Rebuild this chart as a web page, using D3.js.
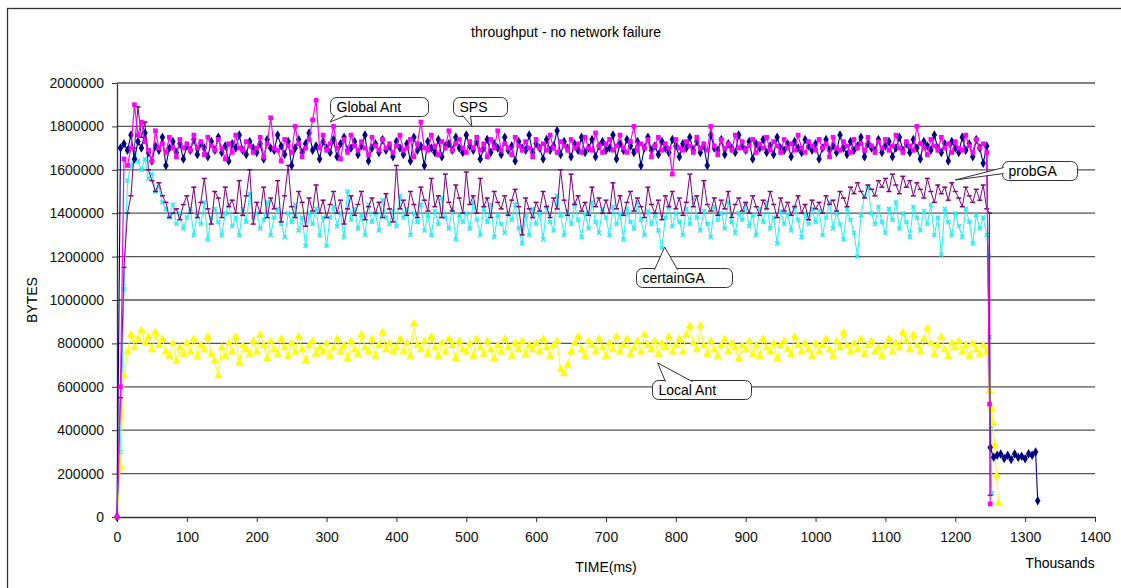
<!DOCTYPE html>
<html>
<head>
<meta charset="utf-8">
<script src="https://cdn.jsdelivr.net/npm/d3@7"></script>
<style>
body { margin: 0; background: #fff; }
svg { display: block; font-family: "Liberation Sans", Arial, sans-serif; }
</style>
</head>
<body>
<svg id="chart" width="1121" height="588"></svg>
<script>
// sample spacing on the time axis (thousand ms); values below are in kB
var STEP = 5;

var yTicks = [0, 200000, 400000, 600000, 800000, 1000000, 1200000, 1400000, 1600000, 1800000, 2000000];
var xTicks = [0, 100, 200, 300, 400, 500, 600, 700, 800, 900, 1000, 1100, 1200, 1300, 1400];

// SPS (navy)
var spsMain = [
  0,1700,1720,1690,1760,1650,1730,1700,1770,1680,1640,1710,1690,1750,1620,1700,1730,1680,1720,1650,
  1710,1690,1740,1670,1720,1700,1660,1730,1690,1750,1680,1710,1640,1720,1700,1760,1690,1670,1730,1700,
  1680,1720,1650,1740,1700,1690,1760,1710,1670,1730,1620,1700,1740,1680,1720,1770,1690,1710,1650,1730,
  1700,1680,1740,1660,1720,1750,1690,1700,1730,1670,1710,1760,1640,1700,1720,1680,1740,1690,1710,1660,
  1730,1700,1670,1720,1640,1750,1690,1710,1620,1730,1700,1680,1740,1660,1710,1720,1690,1750,1700,1680,
  1760,1710,1690,1730,1650,1700,1740,1680,1720,1700,1670,1750,1690,1710,1640,1730,1700,1690,1760,1680,
  1720,1700,1650,1740,1690,1710,1780,1670,1730,1700,1660,1720,1690,1750,1680,1700,1740,1660,1710,1730,
  1690,1700,1760,1650,1720,1690,1740,1710,1680,1730,1620,1700,1750,1690,1710,1670,1730,1700,1680,1740,
  1710,1660,1720,1700,1750,1690,1730,1680,1710,1620,1760,1700,1690,1740,1670,1720,1700,1680,1760,1710,
  1690,1730,1650,1720,1700,1740,1680,1710,1670,1750,1700,1690,1720,1660,1730,1700,1680,1740,1710,1690,
  1720,1650,1700,1740,1690,1710,1680,1760,1700,1670,1730,1690,1710,1750,1660,1720,1700,1690,1740,1680,
  1710,1730,1660,1700,1750,1690,1720,1680,1740,1700,1650,1730,1710,1690,1760,1700,1680,1720,1640,1730,
  1700,1680,1750,1690,1720,1660,1740,1700,1630,1710
];
var spsTailT = [1250,1255,1260,1265,1270,1275,1280,1285,1290,1295,1300,1305,1310,1315,1318];
var spsTailV = [320,275,285,290,270,285,265,290,275,280,268,292,285,300,75];

// Global Ant (magenta)
var globalMain = [
  0,600,1650,1620,1700,1900,1760,1820,1730,1690,1640,1780,1700,1720,1680,1750,1700,1660,1740,1700,
  1720,1690,1760,1700,1730,1670,1750,1710,1690,1740,1700,1650,1720,1680,1760,1700,1690,1730,1710,1680,
  1700,1750,1660,1720,1840,1700,1690,1640,1740,1710,1680,1800,1720,1660,1700,1740,1830,1920,1700,1760,
  1690,1720,1800,1700,1650,1740,1680,1760,1710,1690,1730,1700,1670,1750,1710,1690,1740,1700,1720,1680,
  1710,1760,1690,1700,1740,1660,1720,1820,1700,1690,1760,1710,1670,1730,1700,1780,1690,1720,1740,1700,
  1680,1730,1700,1750,1690,1720,1660,1740,1700,1780,1690,1720,1700,1670,1750,1710,1690,1730,1700,1660,
  1740,1700,1720,1690,1760,1700,1680,1730,1710,1690,1740,1700,1720,1680,1750,1700,1690,1770,1710,1680,
  1720,1740,1690,1710,1760,1700,1680,1730,1800,1690,1720,1700,1740,1660,1710,1750,1690,1720,1700,1580,
  1740,1700,1690,1730,1710,1680,1750,1700,1720,1690,1800,1710,1670,1740,1700,1720,1690,1760,1700,1730,
  1690,1710,1740,1680,1720,1700,1750,1690,1730,1710,1680,1740,1700,1720,1690,1760,1700,1680,1730,1710,
  1690,1740,1700,1720,1660,1750,1700,1690,1730,1710,1680,1740,1700,1720,1690,1750,1710,1680,1730,1700,
  1740,1690,1710,1760,1700,1680,1730,1710,1690,1800,1720,1700,1670,1740,1710,1690,1750,1700,1720,1680,
  1730,1700,1690,1760,1710,1680,1740,1700,1720,1680
];
var globalTailT = [1249,1250];
var globalTailV = [520,60];

// certainGA (cyan)
var certainMain = [
  0,300,1050,1550,1620,1680,1640,1600,1650,1560,1580,1500,1520,1450,1420,1380,1440,1350,1400,1330,
  1380,1420,1300,1400,1350,1450,1280,1380,1420,1360,1300,1400,1440,1340,1380,1300,1420,1360,1490,1380,
  1400,1330,1370,1450,1300,1380,1420,1350,1290,1400,1360,1440,1320,1380,1250,1400,1350,1420,1300,1380,
  1250,1380,1430,1340,1400,1290,1500,1370,1420,1330,1390,1300,1440,1360,1400,1320,1460,1380,1350,1410,
  1340,1480,1380,1420,1300,1400,1360,1440,1320,1390,1300,1410,1350,1470,1380,1330,1420,1280,1390,1360,
  1400,1330,1450,1370,1300,1420,1360,1440,1290,1390,1350,1310,1400,1370,1440,1330,1260,1390,1300,1420,
  1350,1400,1280,1430,1360,1320,1480,1390,1300,1410,1350,1440,1370,1290,1400,1330,1450,1360,1310,1420,
  1380,1300,1430,1350,1400,1280,1420,1360,1330,1450,1370,1300,1410,1350,1390,1320,1240,1380,1430,1340,
  1400,1360,1300,1420,1350,1470,1380,1320,1410,1350,1290,1430,1370,1400,1330,1450,1360,1310,1400,1370,
  1440,1340,1390,1300,1420,1360,1450,1330,1380,1260,1410,1350,1400,1320,1430,1370,1290,1400,1350,1420,
  1360,1410,1300,1380,1450,1330,1400,1350,1280,1420,1370,1310,1200,1390,1480,1520,1400,1350,1430,1360,
  1310,1420,1370,1450,1330,1400,1360,1290,1430,1380,1320,1410,1350,1440,1300,1380,1210,1420,1360,1300,
  1400,1340,1290,1420,1360,1260,1390,1330,1380,1300
];
var certainTailT = [1248,1249,1251,1252];
var certainTailV = [1200,830,420,110];

// probGA (purple)
var probMain = [
  0,550,1150,1400,1480,1700,1890,1750,1820,1600,1550,1500,1540,1480,1450,1380,1400,1420,1370,1440,
  1480,1400,1520,1380,1450,1560,1420,1350,1500,1470,1380,1520,1430,1460,1400,1550,1390,1480,1600,1350,
  1450,1400,1520,1380,1470,1420,1550,1360,1480,1620,1430,1380,1500,1450,1340,1470,1410,1530,1400,1460,
  1380,1440,1500,1400,1460,1350,1420,1480,1390,1440,1500,1370,1430,1470,1400,1450,1380,1490,1420,1360,
  1620,1420,1460,1390,1500,1440,1380,1520,1460,1410,1560,1430,1480,1380,1580,1450,1410,1530,1470,1400,
  1590,1440,1480,1400,1560,1430,1470,1380,1500,1450,1420,1480,1390,1460,1510,1430,1300,1470,1420,1380,
  1450,1410,1500,1430,1380,1470,1420,1600,1460,1390,1580,1440,1480,1410,1450,1390,1520,1430,1470,1400,
  1460,1400,1540,1420,1480,1390,1450,1500,1410,1470,1430,1380,1520,1440,1400,1460,1370,1480,1430,1500,
  1420,1470,1390,1450,1580,1430,1480,1400,1550,1440,1410,1470,1390,1460,1420,1500,1380,1440,1470,1410,
  1450,1400,1480,1430,1390,1460,1420,1500,1440,1380,1470,1410,1450,1390,1430,1480,1400,1440,1370,1460,
  1420,1450,1400,1480,1440,1460,1410,1500,1470,1430,1520,1490,1540,1500,1470,1530,1510,1480,1550,1520,
  1560,1500,1580,1530,1490,1570,1520,1550,1480,1540,1510,1470,1560,1500,1450,1530,1490,1520,1460,1540,
  1500,1470,1430,1520,1480,1450,1510,1460,1530,1420
];
var probTailT = [1249,1250];
var probTailV = [1400,100];

// Local Ant (yellow)
var localMain = [
  0,230,650,760,840,780,820,860,800,830,770,850,790,820,760,740,800,720,780,750,
  800,760,820,740,790,770,830,750,720,650,780,740,800,760,830,710,790,770,750,810,
  760,840,790,730,810,770,750,820,780,740,800,760,830,770,720,790,810,750,780,760,
  800,740,780,820,760,790,730,810,770,750,840,780,760,820,740,790,850,770,800,760,
  780,820,760,800,740,890,790,770,810,750,830,780,740,800,760,820,790,730,810,770,
  760,800,740,820,780,750,810,770,730,790,760,820,780,740,800,770,810,750,790,770,
  800,760,820,780,740,790,810,680,660,700,760,800,830,770,740,810,790,760,820,780,
  740,800,770,830,760,790,820,750,780,810,760,840,790,770,810,750,800,780,830,760,
  790,820,760,840,880,800,770,880,790,750,810,770,740,790,820,760,800,780,730,790,
  770,810,750,790,740,820,780,760,800,730,790,810,770,750,830,790,760,800,770,740,
  800,760,790,820,770,740,810,780,850,790,760,800,770,820,750,790,810,760,780,740,
  790,820,760,800,780,850,810,770,840,790,760,820,870,800,750,790,830,770,740,800,
  780,810,760,790,740,800,770,750,790,760
];
var localTailT = [1249,1252,1254,1256,1259,1262];
var localTailV = [580,500,430,330,190,65];

var svg = d3.select("#chart");

var x = d3.scaleLinear().domain([0, 1400]).range([117, 1095]);
var y = d3.scaleLinear().domain([0, 2000000]).range([517, 83]);

function points(main, tailT, tailV) {
  var pts = main.map(function(v, i) { return { t: i * STEP, v: v * 1000 }; });
  tailT.forEach(function(t, i) { pts.push({ t: t, v: tailV[i] * 1000 }); });
  return pts;
}

var series = [
  { name: "certainGA", color: "#22f0f8", marker: "times", width: 1, pts: points(certainMain, certainTailT, certainTailV) },
  { name: "Local Ant", color: "#ffff00", marker: "triangle", width: 1, pts: points(localMain, localTailT, localTailV) },
  { name: "probGA", color: "#800080", marker: "dash", width: 1, pts: points(probMain, probTailT, probTailV) },
  { name: "SPS", color: "#000080", marker: "diamond", width: 1.1, pts: points(spsMain, spsTailT, spsTailV) },
  { name: "Global Ant", color: "#ff00ff", marker: "square", width: 1.2, pts: points(globalMain, globalTailT, globalTailV) }
];

// outer chart frame
svg.append("rect")
  .attr("x", 7.5).attr("y", 8.5)
  .attr("width", 1200).attr("height", 700)
  .attr("fill", "none").attr("stroke", "#333").attr("stroke-width", 1.3);

svg.append("text")
  .attr("x", 566).attr("y", 37)
  .attr("text-anchor", "middle")
  .style("font-size", "14px")
  .text("throughput - no network failure");

// horizontal gridlines
svg.append("g").selectAll("line")
  .data(yTicks.slice(1))
  .join("line")
  .attr("x1", x(0)).attr("x2", x(1400))
  .attr("y1", function(d) { return y(d); })
  .attr("y2", function(d) { return y(d); })
  .attr("stroke", "#555").attr("stroke-width", 1.3);

var yAxis = svg.append("g")
  .attr("transform", "translate(" + x(0) + ",0)")
  .call(d3.axisLeft(y).tickValues(yTicks).tickFormat(d3.format("d"))
    .tickSize(5).tickSizeOuter(0).tickPadding(8));

var xAxis = svg.append("g")
  .attr("transform", "translate(0," + y(0) + ")")
  .call(d3.axisBottom(x).tickValues(xTicks).tickFormat(d3.format("d"))
    .tickSize(5).tickSizeOuter(0).tickPadding(10));

[yAxis, xAxis].forEach(function(a) {
  a.select(".domain").attr("stroke", "#333").attr("stroke-width", 1.3);
  a.selectAll(".tick line").attr("stroke", "#333");
  a.selectAll(".tick text").style("font-size", "14px").attr("fill", "#111")
    .style("font-family", "Liberation Sans, Arial, sans-serif");
});

svg.append("text")
  .attr("transform", "translate(37,300) rotate(-90)")
  .attr("text-anchor", "middle")
  .style("font-size", "14px")
  .text("BYTES");

svg.append("text")
  .attr("x", (x(0) + x(1400)) / 2).attr("y", 572)
  .attr("text-anchor", "middle")
  .style("font-size", "14px")
  .text("TIME(ms)");

svg.append("text")
  .attr("x", 1060).attr("y", 568)
  .attr("text-anchor", "middle")
  .style("font-size", "14px")
  .text("Thousands");

var line = d3.line()
  .x(function(d) { return x(d.t); })
  .y(function(d) { return y(d.v); });

var markerPath = {
  diamond: d3.symbol(d3.symbolDiamond, 26)(),
  square: d3.symbol(d3.symbolSquare, 22)(),
  triangle: d3.symbol(d3.symbolTriangle, 30)(),
  times: d3.symbol(d3.symbolTimes, 12)(),
  dash: "M-2.5,0H2.5"
};

series.forEach(function(s) {
  var g = svg.append("g").attr("class", "series");
  g.append("path")
    .datum(s.pts)
    .attr("d", line)
    .attr("fill", "none")
    .attr("stroke", s.color)
    .attr("stroke-width", s.width);

  var stroked = s.marker === "times" || s.marker === "dash";
  g.selectAll("path.mk")
    .data(s.pts)
    .join("path")
    .attr("class", "mk")
    .attr("transform", function(d) { return "translate(" + x(d.t) + "," + y(d.v) + ")"; })
    .attr("d", markerPath[s.marker])
    .attr("fill", stroked ? "none" : s.color)
    .attr("stroke", stroked ? s.color : "none")
    .attr("stroke-width", 1.5);
});

// callout labels: tip points at a data location, box sits at a pixel offset
var callouts = [
  { text: "Global Ant", t: 305, v: 1820000, bx: 0, by: -25, bw: 98, bh: 19, base: [[4, 19], [16, 19]] },
  { text: "SPS", t: 508, v: 1800000, bx: -19, by: -29, bw: 54, bh: 19, base: [[9, 19], [17, 19]] },
  { text: "probGA", t: 1200, v: 1553000, bx: 47, by: -19, bw: 75, bh: 19, base: [[0, 6], [0, 12]] },
  { text: "certainGA", t: 784, v: 1244000, bx: -29, by: 21, bw: 96, bh: 19, base: [[18, 0], [41, 0]] },
  { text: "Local Ant", t: 774, v: 710000, bx: -6, by: 17, bw: 99, bh: 19, base: [[13, 0], [40, 0]] }
];

callouts.forEach(function(c) {
  var tx = x(c.t), ty = y(c.v);
  var x0 = Math.round(tx + c.bx) + 0.5, y0 = Math.round(ty + c.by) + 0.5;
  var g = svg.append("g");
  g.append("rect")
    .attr("x", x0).attr("y", y0)
    .attr("width", c.bw).attr("height", c.bh)
    .attr("rx", 6).attr("ry", 6)
    .attr("fill", "#fff").attr("stroke", "#333").attr("stroke-width", 1);
  // wedge: fill covers the box edge between base points, stroke only on the two sides
  var a = c.base[0], b = c.base[1];
  var inset = function(p) {
    var px = x0 + p[0], py = y0 + p[1];
    if (p[1] === 0) py += 1.2;
    else if (p[1] === c.bh) py -= 1.2;
    else if (p[0] === 0) px += 1.2;
    return [px, py];
  };
  var pa = inset(a), pb = inset(b);
  g.append("path")
    .attr("d", "M" + pa[0] + "," + pa[1] + "L" + tx + "," + ty + "L" + pb[0] + "," + pb[1])
    .attr("fill", "#fff").attr("stroke", "#333").attr("stroke-width", 1);
  g.append("text")
    .attr("x", x0 + 6).attr("y", y0 + c.bh / 2 + 5)
    .style("font-size", "14px")
    .text(c.text);
});
</script>
</body>
</html>
